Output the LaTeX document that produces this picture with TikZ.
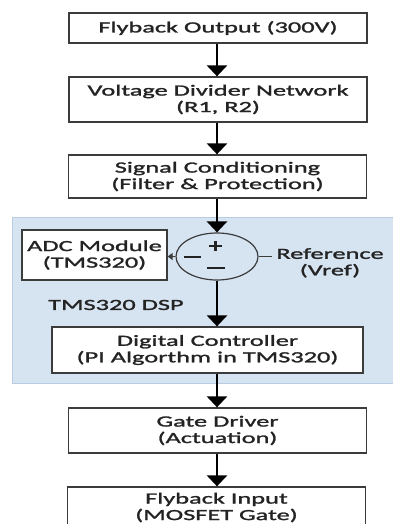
\documentclass[tikz,border=0pt]{standalone}
\usepackage{fontspec}
\setmainfont{Carlito}[FakeStretch=1.70,FakeBold=1.6]
\usetikzlibrary{shapes.geometric,arrows.meta}
\definecolor{txt}{RGB}{35,35,35}
\definecolor{edge}{RGB}{60,60,60}
\definecolor{dspfill}{RGB}{214,227,241}
\definecolor{dspedge}{RGB}{185,204,226}
\begin{document}
\begin{tikzpicture}[x=1pt,y=-1pt,
  every node/.style={text=txt,font=\fontsize{15.5}{16.5}\selectfont},
  blk/.style={draw=edge,line width=1.3pt,fill=white,minimum width=298pt,align=center,inner sep=0pt},
  flow/.style={draw=black,line width=2.8pt,-{Triangle[width=20pt,length=11pt]},shorten >=0pt},
  thin/.style={draw=edge,line width=1.2pt},
  signline/.style={draw=txt,line width=2.2pt}]
\useasboundingbox (0,0) rectangle (393,524);
\fill[white] (0,0) rectangle (393,524);
% DSP region
\draw[fill=dspfill,draw=dspedge,line width=1pt] (12,217) rectangle (400,383);
\node[blk,minimum height=30pt] (out) at (218,28) {Flyback Output (300V)};
\node[blk,minimum height=45pt] (div) at (218,99.5) {Voltage Divider Network\\(R1, R2)};
\node[blk,minimum height=43pt] (sig) at (217.5,176.5) {Signal Conditioning\\(Filter \& Protection)};
\node[draw=edge,line width=1.2pt,fill=dspfill,ellipse,minimum width=82pt,minimum height=47pt,inner sep=0pt] (sum) at (217,256.5) {};
% signs of the summing junction
\draw[signline] ([xshift=-8pt,yshift=10.5pt]sum.center) -- ([xshift=5pt,yshift=10.5pt]sum.center);
\draw[signline] ([xshift=-1.5pt,yshift=15.5pt]sum.center) -- ([xshift=-1.5pt,yshift=5.5pt]sum.center);
\draw[signline] ([xshift=-33pt,yshift=-0.5pt]sum.center) -- ([xshift=-16pt,yshift=-0.5pt]sum.center);
\draw[signline] ([xshift=-10pt,yshift=-11.5pt]sum.center) -- ([xshift=8pt,yshift=-11.5pt]sum.center);
\node[draw=edge,line width=1.3pt,fill=white,minimum width=145pt,minimum height=50pt,align=center,inner sep=0pt] (adc) at (94.5,255) {ADC Module\\(TMS320)};
\node[align=center,anchor=north,inner sep=0pt] (ref) at (330,248) {Reference\\(Vref)};
\coordinate (refend) at (272,256.5);
\node[anchor=west,inner sep=0pt] (dsp) at (48,305) {TMS320 DSP};
\node[blk,minimum width=311pt,minimum height=46pt] (ctl) at (207.5,350) {Digital Controller\\(PI Algorthm in TMS320)};
\node[blk,minimum height=45pt] (gd) at (217.5,430.5) {Gate Driver\\(Actuation)};
\node[blk,minimum height=48pt] (fi) at (216.5,511) {};
\node[align=center,inner sep=0pt] (fitext) at (216.5,507.5) {Flyback Input\\(MOSFET Gate)};
% connectors
\draw[flow] (out.south -| 217,0) -- (div.north -| 217,0);
\draw[flow] (div.south -| 217,0) -- (sig.north -| 217,0);
\draw[flow] (sig.south -| 217,0) -- (sum.north);
\draw[flow] (sum.south) -- (ctl.north -| 217,0);
\draw[flow] (ctl.south -| 217,0) -- (gd.north -| 217,0);
\draw[flow] (gd.south -| 217,0) -- (fi.north -| 217,0);
\draw[thin,-{Triangle[width=7pt,length=5pt]}] (sum.west) -- (adc.east |- sum.west);
\draw[thin] (sum.east) -- (refend);
\end{tikzpicture}
\end{document}
